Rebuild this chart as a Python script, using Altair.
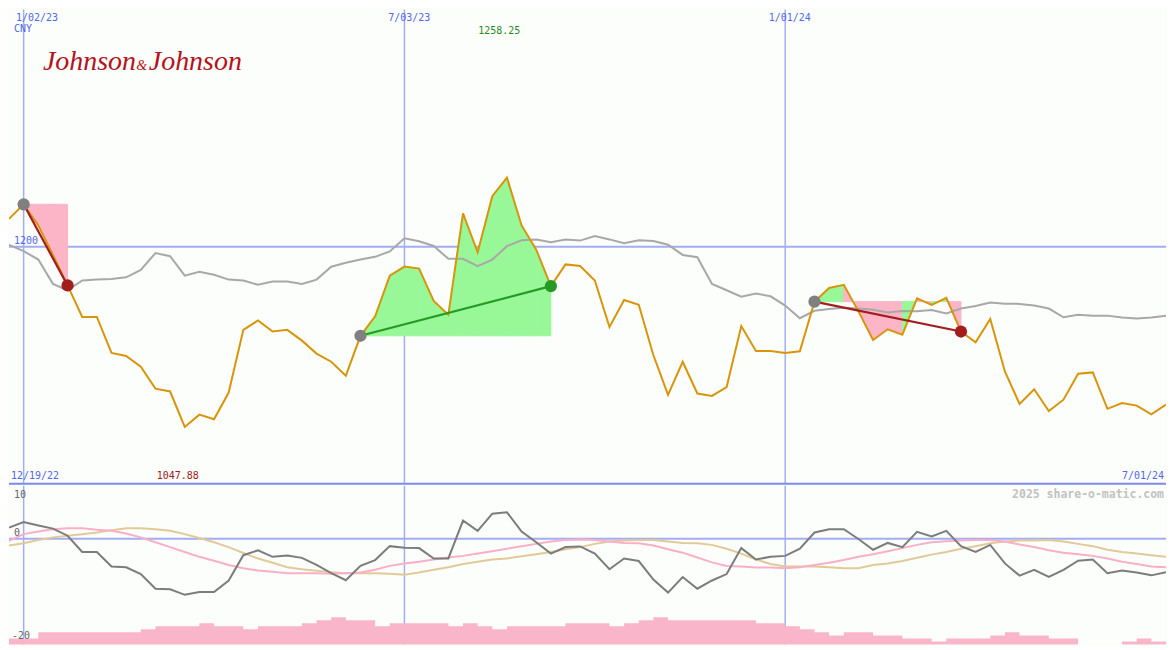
import altair as alt
import pandas as pd

# ---------------- data ----------------
dates = pd.date_range("2022-12-26", periods=80, freq="7D").strftime("%Y-%m-%d").tolist()

price = [1223.4, 1235.7, 1217.9, 1193.0, 1167.3, 1140.7, 1140.7, 1110.3, 1107.8, 1098.8,
         1080.2, 1077.8, 1047.88, 1058.3, 1054.4, 1076.9, 1129.8, 1137.7, 1128.4, 1129.8,
         1120.7, 1109.8, 1102.9, 1091.2, 1124.8, 1141.3, 1175.5, 1183.2, 1181.5, 1154.2,
         1142.6, 1228.1, 1195.2, 1242.5, 1258.25, 1217.9, 1197.4, 1166.7, 1185.0, 1183.7,
         1171.4, 1132.2, 1155.0, 1150.9, 1108.4, 1075.0, 1102.9, 1076.1, 1074.1, 1081.6,
         1133.0, 1111.9, 1111.9, 1110.3, 1111.7, 1153.6, 1165.1, 1167.8, 1145.4, 1121.3,
         1130.3, 1125.7, 1156.3, 1150.9, 1156.9, 1128.4, 1119.3, 1139.0, 1094.7, 1067.3,
         1079.7, 1061.3, 1070.9, 1092.8, 1093.9, 1063.2, 1068.1, 1065.9, 1058.5, 1066.8]

avg = [1201.5, 1196.3, 1189.1, 1168.6, 1163.2, 1171.4, 1172.2, 1172.7, 1174.1, 1180.4,
       1194.6, 1191.9, 1175.5, 1178.8, 1176.3, 1172.2, 1171.4, 1167.8, 1170.6, 1170.6,
       1168.6, 1172.2, 1183.1, 1186.4, 1189.1, 1191.4, 1196.0, 1207.0, 1204.5, 1200.6,
       1189.7, 1189.7, 1183.6, 1189.1, 1200.4, 1205.3, 1206.1, 1203.7, 1206.1, 1205.1,
       1208.9, 1206.1, 1202.9, 1205.3, 1204.8, 1201.6, 1193.0, 1191.1, 1168.6, 1163.2,
       1157.7, 1160.4, 1158.1, 1150.3, 1139.6, 1145.9, 1147.4, 1148.5, 1147.8, 1146.8,
       1144.5, 1145.8, 1145.4, 1146.6, 1143.7, 1147.8, 1149.9, 1152.8, 1151.9, 1151.7,
       1150.3, 1147.8, 1140.4, 1142.5, 1141.8, 1141.8, 1140.2, 1139.4, 1140.2, 1141.7]

osc = [2.08, 3.13, 2.50, 1.90, 0.55, -2.52, -2.52, -5.28, -5.41, -6.70,
       -9.46, -9.57, -10.62, -10.07, -10.07, -7.91, -3.13, -2.21, -3.44, -3.20,
       -3.63, -4.97, -6.52, -7.86, -5.15, -4.05, -1.42, -1.73, -1.79, -3.75,
       -3.75, 3.42, 1.47, 4.71, 4.97, 1.34, -0.68, -2.83, -1.60, -1.47,
       -2.83, -5.78, -3.75, -4.23, -7.73, -10.20, -7.25, -9.46, -7.91, -6.70,
       -1.79, -3.94, -3.44, -3.26, -1.91, 1.16, 1.77, 1.77, -0.07, -2.10,
       -0.81, -1.60, 1.29, 0.42, 1.47, -1.42, -2.52, -1.18, -4.68, -6.99,
       -5.89, -7.25, -5.89, -4.18, -3.94, -6.52, -6.02, -6.39, -6.94, -6.33]

sig = [-0.42, 0.85, 1.34, 1.77, 1.95, 1.95, 1.66, 1.47, 0.98, 0.24,
       -0.68, -1.60, -2.52, -3.44, -4.18, -4.97, -5.60, -6.02, -6.26, -6.52,
       -6.52, -6.52, -6.63, -6.52, -6.39, -5.89, -5.15, -4.68, -4.36, -3.94,
       -3.57, -3.26, -2.83, -2.39, -1.91, -1.42, -0.99, -0.55, -0.26, -0.18,
       -0.26, -0.55, -0.81, -0.87, -1.29, -2.02, -2.65, -3.57, -4.49, -5.15,
       -5.28, -5.47, -5.47, -5.60, -5.41, -4.97, -4.55, -4.05, -3.44, -2.94,
       -2.39, -1.79, -1.18, -0.68, -0.50, -0.37, -0.26, -0.26, -0.55, -1.10,
       -1.60, -2.21, -2.65, -2.94, -3.26, -3.75, -4.36, -4.79, -5.28, -5.41]

slow = [-1.29, -0.87, -0.26, 0.24, 0.55, 0.85, 1.16, 1.58, 1.95, 1.95,
        1.77, 1.47, 0.85, 0.11, -0.68, -1.60, -2.71, -3.75, -4.55, -5.41,
        -5.78, -6.07, -6.33, -6.52, -6.52, -6.52, -6.63, -6.81, -6.39, -5.89,
        -5.41, -4.79, -4.36, -3.94, -3.75, -3.31, -2.94, -2.52, -2.02, -1.60,
        -0.99, -0.55, -0.37, -0.26, -0.26, -0.55, -0.81, -0.87, -1.18, -1.91,
        -2.83, -3.94, -4.79, -5.28, -5.28, -5.28, -5.41, -5.60, -5.60, -4.97,
        -4.68, -4.23, -3.63, -3.02, -2.52, -1.91, -1.42, -0.87, -0.55, -0.37,
        -0.37, -0.26, -0.55, -0.99, -1.42, -2.10, -2.52, -2.83, -3.13, -3.44]

vol = [2, 2, 4, 4, 4, 4, 4, 4, 4, 5,
       6, 6, 6, 7, 6, 6, 5, 6, 6, 6,
       7, 8, 9, 8, 8, 6, 7, 7, 7, 7,
       6, 7, 6, 5, 6, 6, 6, 6, 7, 7,
       7, 6, 7, 8, 9, 8, 8, 8, 8, 8,
       8, 7, 7, 6, 5, 4, 3, 4, 4, 3,
       3, 2, 2, 1, 2, 2, 2, 3, 4, 3,
       3, 2, 2, 0, 0, 0, 1, 2, 1, 1]

grid_dates = ["2023-01-02", "2023-07-03", "2024-01-01"]
grid_labels = ["1/02/23", "7/03/23", "1/01/24"]
range_labels = ["12/19/22", "7/01/24"]
trend_windows = [(1, 4), (24, 37), (55, 65)]  # start index, end index
price_level = [1200]
osc_ticks = ["10", "0", "-20"]
currency = "CNY"
company = ["Johnson", "&", "Johnson"]
credit = "2025 share-o-matic.com"

# ---------------- styling ----------------
W, H_TOP, H_BOT = 1159, 475, 159
GRID = "#a3adf3"
SEP = "#7b8bee"
ORANGE = "#d8950b"
GRAYL = "#a8a8a8"
GREEN_FILL = "#98f898"
PINK_FILL = "#fbb5c7"
DARKRED = "#a31d1d"
GREEN_LINE = "#259b25"
DOT_GRAY = "#808080"
OSC_C = "#7c7c7c"
SIG_C = "#f9afc8"
SLOW_C = "#e2ca98"
VOL_C = "#f9b5c9"
TXT_BLUE = "#5166ea"
BG = "#fcfefb"
MONO = "DejaVu Sans Mono"

df = pd.DataFrame(dict(date=dates, price=price, avg=avg, osc=osc, sig=sig, slow=slow, vol=vol))

# fills between price and the starting level of each window
fill_rows, trend_rows = [], []
for r, (s, e) in enumerate(trend_windows):
    level = price[s]
    for k in range(s, e):
        tag = "up" if price[k + 1] >= level else "down"
        for j in (k, k + 1):
            fill_rows.append(dict(date=dates[j], price=price[j], level=level, seg=f"{r}-{k}", tag=tag))
    trend_rows.append(dict(d0=dates[s], p0=price[s], d1=dates[e], p1=price[e],
                           tag="up" if price[e] >= price[s] else "down"))
fill_df = pd.DataFrame(fill_rows)
trend_df = pd.DataFrame(trend_rows)

x_scale = alt.Scale(domain=[alt.DateTime(year=2022, month=12, date=26, utc=True),
                            alt.DateTime(year=2024, month=7, date=1, utc=True)], nice=False)
X = lambda f="date": alt.X(f"{f}:T", scale=x_scale, axis=None)
yP = alt.Scale(domain=[1000, 1400], nice=False, zero=False)
yO = alt.Scale(domain=[-20, 10], nice=False, zero=False)
yV = alt.Scale(domain=[0, 52.5], nice=False, zero=False)
fill_scale = alt.Scale(domain=["up", "down"], range=[GREEN_FILL, PINK_FILL])


def label(text, x, y, color, align="left", baseline="top", size=10, font=MONO,
          weight="normal", style="normal"):
    return alt.Chart(pd.DataFrame({"t": [text]})).mark_text(
        align=align, baseline=baseline, color=color, fontSize=size, font=font,
        fontWeight=weight, fontStyle=style
    ).encode(x=alt.value(x), y=alt.value(y), text="t:N")


vdf = pd.DataFrame({"date": grid_dates})
vrules = alt.Chart(vdf).mark_rule(color=GRID, strokeWidth=1.5).encode(x=X())

# ---------------- top panel ----------------
hline = alt.Chart(pd.DataFrame({"v": price_level})).mark_rule(color=GRID, strokeWidth=2).encode(
    y=alt.Y("v:Q", scale=yP, axis=None))
sep = alt.Chart(pd.DataFrame({"v": [1000]})).mark_rule(color=SEP, strokeWidth=2).encode(
    y=alt.Y("v:Q", scale=yP, axis=None))

fills = alt.Chart(fill_df).mark_area(opacity=1, strokeWidth=1).encode(
    x=X(), y=alt.Y("price:Q", scale=yP, axis=None), y2="level:Q",
    color=alt.Color("tag:N", scale=fill_scale, legend=None),
    stroke=alt.Stroke("tag:N", scale=fill_scale, legend=None),
    detail="seg:N")

avg_line = alt.Chart(df).mark_line(color=GRAYL, strokeWidth=2, clip=True).encode(
    x=X(), y=alt.Y("avg:Q", scale=yP, axis=None))
price_line = alt.Chart(df).mark_line(color=ORANGE, strokeWidth=2, clip=True).encode(
    x=X(), y=alt.Y("price:Q", scale=yP, axis=None))

trend_base = alt.Chart(trend_df)
trend_down = trend_base.transform_filter(alt.datum.tag == "down").mark_rule(color=DARKRED, strokeWidth=2.2).encode(
    x=X("d0"), x2="d1:T", y=alt.Y("p0:Q", scale=yP, axis=None), y2="p1:Q")
trend_up = trend_base.transform_filter(alt.datum.tag == "up").mark_rule(color=GREEN_LINE, strokeWidth=2.2).encode(
    x=X("d0"), x2="d1:T", y=alt.Y("p0:Q", scale=yP, axis=None), y2="p1:Q")
dot_start = trend_base.mark_circle(size=150, color=DOT_GRAY, opacity=1).encode(
    x=X("d0"), y=alt.Y("p0:Q", scale=yP, axis=None))
dot_down = trend_base.transform_filter(alt.datum.tag == "down").mark_circle(size=150, color=DARKRED, opacity=1).encode(
    x=X("d1"), y=alt.Y("p1:Q", scale=yP, axis=None))
dot_up = trend_base.transform_filter(alt.datum.tag == "up").mark_circle(size=150, color=GREEN_LINE, opacity=1).encode(
    x=X("d1"), y=alt.Y("p1:Q", scale=yP, axis=None))

level_lbl = alt.Chart(pd.DataFrame({"v": price_level, "t": [str(v) for v in price_level]})).mark_text(
    align="left", baseline="bottom", color=TXT_BLUE, fontSize=10, font=MONO, dy=-1
).encode(x=alt.value(5), y=alt.Y("v:Q", scale=yP, axis=None), text="t:N")

top_texts = [
    label(grid_labels[0], 7, 3, TXT_BLUE),
    label(currency, 5, 14, TXT_BLUE),
    label(grid_labels[1], 380, 3, TXT_BLUE),
    label(grid_labels[2], 761, 3, TXT_BLUE),
    label(f"{max(price):.2f}", 470, 16, "#228b22"),
    label(range_labels[0], 2, 472, TXT_BLUE, baseline="bottom"),
    label(f"{min(price):.2f}", 148, 472, "#a01818", baseline="bottom"),
    label(range_labels[1], 1157, 472, TXT_BLUE, align="right", baseline="bottom"),
    label(company[0], 34, 61, "#b5121b", baseline="alphabetic", size=28, font="Liberation Serif", style="italic"),
    label(company[1], 133, 61, "#b5121b", align="center", baseline="alphabetic", size=14, font="Liberation Serif", style="italic"),
    label(company[2], 140, 61, "#b5121b", baseline="alphabetic", size=28, font="Liberation Serif", style="italic"),
]

top = alt.layer(
    hline, vrules, fills, avg_line, price_line, trend_down, trend_up,
    dot_start, dot_down, dot_up, sep, level_lbl, *top_texts
).properties(width=W, height=H_TOP)

# ---------------- bottom panel ----------------
vol_area = alt.Chart(df).mark_area(interpolate="step-after", color=VOL_C, opacity=1).encode(
    x=X(), y=alt.Y("vol:Q", scale=yV, axis=None))
zero = alt.Chart(pd.DataFrame({"v": [0]})).mark_rule(color=GRID, strokeWidth=2).encode(
    y=alt.Y("v:Q", scale=yO, axis=None))
slow_line = alt.Chart(df).mark_line(color=SLOW_C, strokeWidth=2, clip=True).encode(
    x=X(), y=alt.Y("slow:Q", scale=yO, axis=None))
sig_line = alt.Chart(df).mark_line(color=SIG_C, strokeWidth=2, clip=True).encode(
    x=X(), y=alt.Y("sig:Q", scale=yO, axis=None))
osc_line = alt.Chart(df).mark_line(color=OSC_C, strokeWidth=2, clip=True).encode(
    x=X(), y=alt.Y("osc:Q", scale=yO, axis=None))

bot_texts = [
    label(osc_ticks[0], 5, 9, "#666666", baseline="middle"),
    label(osc_ticks[1], 5, 47, "#666666", baseline="middle"),
    label(osc_ticks[2], 3, 151, "#666666", baseline="middle"),
    label(credit, 1157, 9, "#c2c2c2", align="right", baseline="middle", size=11.5, weight="bold"),
]

bottom = alt.layer(
    vrules, zero, vol_area, slow_line, sig_line, osc_line, *bot_texts
).resolve_scale(y="independent").properties(width=W, height=H_BOT)

chart = alt.vconcat(top, bottom, spacing=0).properties(
    padding=0, background=BG
).configure_view(stroke=None)

chart.save("out.html", embed_options={"renderer": "svg", "actions": False})
